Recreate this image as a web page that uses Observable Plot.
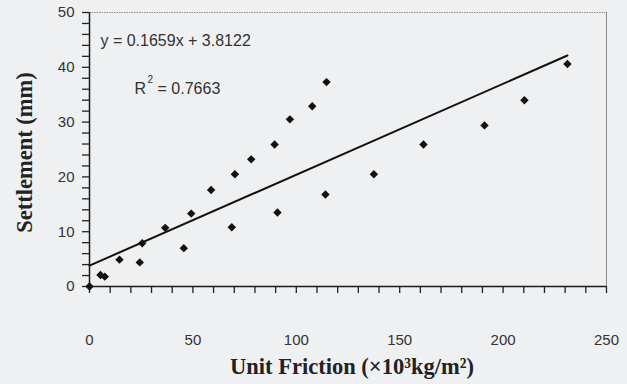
<!DOCTYPE html>
<html>
<head>
<meta charset="utf-8">
<script src="https://cdn.jsdelivr.net/npm/d3@7"></script>
<script src="https://cdn.jsdelivr.net/npm/@observablehq/plot@0.6"></script>
<style>
  html, body { margin: 0; padding: 0; background: #eff0f2; }
  #chart { width: 627px; height: 384px; }
</style>
</head>
<body>
<div id="chart"></div>
<script>
// Data
const friction = [0, 5.3, 7.4, 14.5, 24.3, 25.5, 36.6, 45.6, 49.2, 58.8, 68.8, 70.3, 78.2, 89.5, 90.9, 96.9, 107.7, 114.1, 114.6, 137.5, 161.5, 191.0, 210.3, 231.1];
const settlement = [0, 2.1, 1.8, 4.9, 4.4, 7.9, 10.7, 7.0, 13.3, 17.6, 10.8, 20.5, 23.2, 25.9, 13.5, 30.5, 32.9, 16.8, 37.3, 20.5, 25.9, 29.4, 34.0, 40.6];
const slope = 0.1659;
const intercept = 3.8122;
const xMajorTicks = [0, 50, 100, 150, 200, 250];
const yMajorTicks = [0, 10, 20, 30, 40, 50];
const xMinorTicks = d3.range(0, 251, 10);
const yMinorTicks = d3.range(0, 51, 2);
const eqLabel = "y = 0.1659x + 3.8122";
const r2Value = "= 0.7663";
const xTitle = "Unit Friction (×10³kg/m²)";
const yTitle = "Settlement (mm)";

const points = friction.map((f, i) => ({x: f, y: settlement[i]}));
const xEnd = d3.max(friction);
const trend = [0, xEnd].map(x => ({x, y: slope * x + intercept}));

const sans = "'Liberation Sans', Arial, sans-serif";
const serif = "'Liberation Serif', 'Times New Roman', serif";

const chart = Plot.plot({
  width: 627,
  height: 384,
  marginLeft: 89,
  marginRight: 21,
  marginTop: 12,
  marginBottom: 98,
  style: {background: "#eff0f2", fontFamily: sans, color: "#2a2a2a"},
  x: {domain: [0, 250]},
  y: {domain: [0, 50]},
  marks: [
    // frame: top dotted and right grey lines
    Plot.ruleY([50], {stroke: "#8a8a8a", strokeDasharray: "1.5,1", strokeWidth: 1}),
    Plot.ruleX([250], {stroke: "#8a8a8a", strokeWidth: 1}),
    // minor ticks
    Plot.axisX({ticks: xMinorTicks, tickSize: 7, tickFormat: () => "", stroke: "#222", strokeWidth: 1.3, label: null}),
    Plot.axisY({ticks: yMinorTicks, tickSize: 7, tickFormat: () => "", stroke: "#222", strokeWidth: 1.3, label: null}),
    // major labels
    Plot.axisX({ticks: xMajorTicks, tickSize: 0, tickPadding: 48, fontSize: 15, fill: "#333", label: null}),
    Plot.axisY({ticks: yMajorTicks, tickSize: 0, tickPadding: 15, fontSize: 15, fill: "#333", label: null}),
    Plot.ruleX([0], {stroke: "#1a1a1a", strokeWidth: 1.5}),
    Plot.ruleY([0], {stroke: "#1a1a1a", strokeWidth: 1.5}),
    Plot.line(trend, {x: "x", y: "y", stroke: "#111", strokeWidth: 2}),
    Plot.dot(points, {x: "x", y: "y", symbol: "diamond2", r: 3.8, fill: "#111", stroke: "none"}),
    // annotations
    Plot.text([eqLabel], {x: 5.3, y: 44.9, text: d => d, textAnchor: "start", fontSize: 16, fill: "#333", fontFamily: sans}),
    Plot.text(["R"], {x: 21.8, y: 36.1, text: d => d, textAnchor: "start", fontSize: 16, fill: "#333", fontFamily: sans}),
    Plot.text(["2"], {x: 21.8, y: 36.1, text: d => d, textAnchor: "start", dx: 13, dy: -9, fontSize: 10, fill: "#333", fontFamily: sans}),
    Plot.text([r2Value], {x: 21.8, y: 36.1, text: d => d, textAnchor: "start", dx: 23, fontSize: 16, fill: "#333", fontFamily: sans}),
    // axis titles
    Plot.text([xTitle], {frameAnchor: "bottom", text: d => d, textAnchor: "middle", lineAnchor: "middle", dy: 80, dx: 4, fontSize: 22.5, fontWeight: "bold", fontFamily: serif, fill: "#222"}),
    Plot.text([yTitle], {frameAnchor: "left", text: d => d, textAnchor: "middle", lineAnchor: "middle", dx: -65, dy: 3, rotate: -90, fontSize: 22.5, fontWeight: "bold", fontFamily: serif, fill: "#222"})
  ]
});
document.getElementById("chart").appendChild(chart);
</script>
</body>
</html>
